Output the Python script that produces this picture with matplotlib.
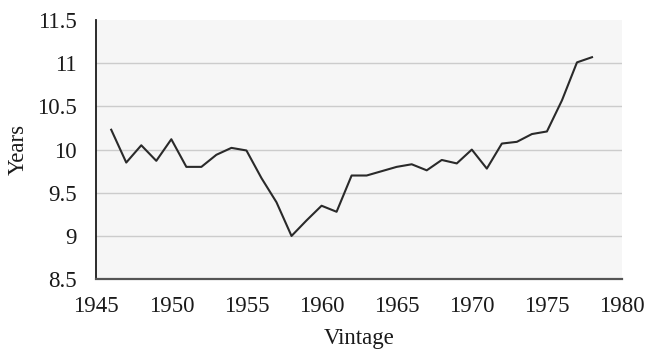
import matplotlib
matplotlib.use("Agg")
import matplotlib.pyplot as plt

years = list(range(1946, 1979))
values = [10.23, 9.85, 10.05, 9.87, 10.12, 9.80, 9.80, 9.94, 10.02, 9.99,
          9.67, 9.39, 9.00, 9.18, 9.35, 9.28, 9.70, 9.70, 9.75, 9.80,
          9.83, 9.76, 9.88, 9.84, 10.00, 9.78, 10.07, 10.09, 10.18, 10.21,
          10.57, 11.01, 11.07]
x_ticks = [1945, 1950, 1955, 1960, 1965, 1970, 1975, 1980]
y_ticks = [8.5, 9, 9.5, 10, 10.5, 11, 11.5]
y_tick_labels = ["8.5", "9", "9.5", "10", "10.5", "11", "11.5"]

plt.rcParams['font.family'] = ['Liberation Serif', 'DejaVu Serif']

fig = plt.figure(figsize=(6.5, 3.52), dpi=100)
ax = fig.add_axes([0.148, 0.207, 0.809, 0.736])
ax.set_facecolor("#f6f6f6")

ax.plot(years, values, color="#2a2a2a", linewidth=1.5)

ax.set_xlim(1945, 1980)
ax.set_ylim(8.5, 11.5)
ax.set_xticks(x_ticks)
ax.set_yticks(y_ticks)
ax.set_yticklabels(y_tick_labels)
ax.tick_params(axis='both', length=0, labelsize=16.5, colors="#1a1a1a")
ax.tick_params(axis='x', pad=12)
ax.tick_params(axis='y', pad=14)

for yv in [9, 9.5, 10, 10.5, 11]:
    ax.axhline(yv, color="#cccccc", linewidth=1.0, zorder=0)

for s in ["top", "right"]:
    ax.spines[s].set_visible(False)
ax.spines["left"].set_color("#1a1a1a")
ax.spines["left"].set_linewidth(1.3)
ax.spines["bottom"].set_color("#555555")
ax.spines["bottom"].set_linewidth(1.6)

ax.set_xlabel("Vintage", fontsize=16.5, color="#1a1a1a", labelpad=8)
ax.set_ylabel("Years", fontsize=16.5, color="#1a1a1a", labelpad=6)

fig.savefig("out.png", dpi=100, facecolor="white")
